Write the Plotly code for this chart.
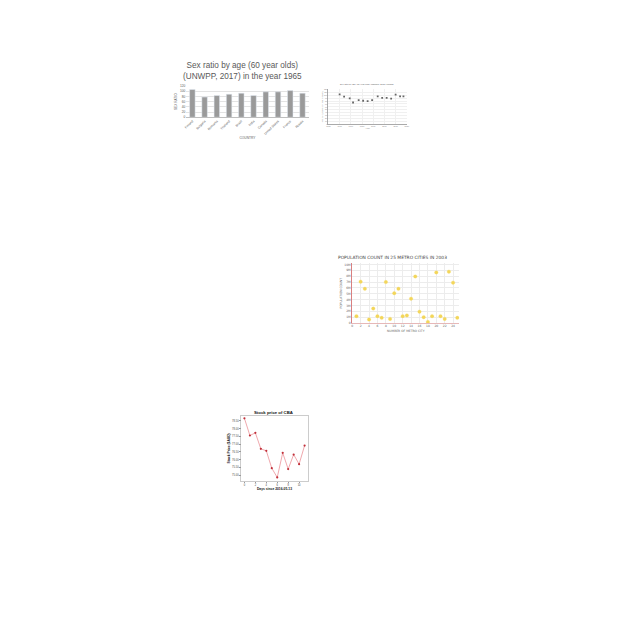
import plotly.graph_objects as go

W = H = 640

# ---- Chart 1: bar chart ----
countries = ["Finland", "Bulgaria", "Romania", "Thailand", "Brazil", "India",
             "Canada", "United States", "France", "Russia"]
sex_ratio_1965 = [107, 78, 84, 89, 93, 84, 98, 98, 103, 93]
bar_ticks = [0, 20, 40, 60, 80, 100, 120]

# ---- Chart 2: scatter over years ----
years = [1960, 1964, 1969, 1972, 1977, 1981, 1985, 1989, 1994, 1998, 2002, 2006, 2010, 2014, 2017]
sex_ratio_years = [103, 95, 89, 75, 83, 81, 80, 83, 96, 91, 91, 88, 102, 96, 96]
year_ticks = [1950, 1960, 1970, 1980, 1990, 2000, 2010, 2020]

# ---- Chart 3: population scatter ----
metro_no = list(range(1, 26))
population = [1170000, 7070000, 5850000, 580000, 2460000, 1170000, 880000, 7000000,
              700000, 5100000, 5850000, 1170000, 1300000, 4150000, 7950000, 1930000,
              1000000, 180000, 1170000, 8650000, 1170000, 700000, 8770000, 6900000, 880000]
pop_ticks = list(range(0, 10000001, 1000000))
metro_ticks = list(range(0, 25, 2))

# ---- Chart 4: stock price line ----
days = list(range(0, 12))
price = [78.67, 77.56, 77.73, 76.70, 76.57, 75.45, 74.85, 76.44, 75.39, 76.33, 75.71, 76.91]
price_ticks = [75.0, 75.5, 76.0, 76.5, 77.0, 77.5, 78.0, 78.5]
day_ticks = [0, 2, 4, 6, 8, 10]


def px(x):
    return x / W


def py(y):
    return 1 - y / H


fig = go.Figure()

# Chart 1
fig.add_trace(go.Bar(x=countries, y=sex_ratio_1965, marker_color="#9a9a9a",
                     width=0.45, xaxis="x", yaxis="y", showlegend=False))
# Chart 2
fig.add_trace(go.Scatter(x=years, y=sex_ratio_years, mode="markers",
                         marker=dict(size=1.8, color="#666666", symbol="square"),
                         xaxis="x2", yaxis="y2", showlegend=False))
# Chart 3
fig.add_trace(go.Scatter(x=metro_no, y=population, mode="markers",
                         marker=dict(size=3.5, color="#f3d65a", symbol="circle",
                                     line=dict(width=0.8, color="rgba(243,214,90,0.35)")),
                         xaxis="x3", yaxis="y3", showlegend=False))
# Chart 4
fig.add_trace(go.Scatter(x=days, y=price, mode="lines+markers",
                         line=dict(color="#e8838a", width=0.7),
                         marker=dict(size=2.2, color="#c0303a"),
                         xaxis="x4", yaxis="y4", showlegend=False))

fig.update_layout(
    width=W, height=H, margin=dict(l=0, r=0, t=0, b=0),
    paper_bgcolor="white", plot_bgcolor="white",
    bargap=0.5,
    # chart 1
    xaxis=dict(domain=[px(185.7), px(309)], anchor="y", tickangle=-45,
               tickfont=dict(size=3.2, color="#595959", family="Liberation Sans"),
               showline=True, linecolor="#bfbfbf", linewidth=0.6, ticks="",
               title=dict(text="COUNTRY", font=dict(size=3.2, color="#595959",
                                                    family="Liberation Sans"), standoff=2)),
    yaxis=dict(domain=[py(116), py(84.7)], anchor="x", range=[0, 120], tickvals=bar_ticks,
               tickfont=dict(size=3.2, color="#595959", family="Liberation Sans"),
               showgrid=True, gridcolor="#e3e3e3", gridwidth=0.5, zeroline=False,
               title=dict(text="SEX RATIO", font=dict(size=3.2, color="#595959",
                                                      family="Liberation Sans"), standoff=2)),
    # chart 2
    xaxis2=dict(domain=[px(329), px(408)], anchor="y2", range=[1950, 2020], tickvals=year_ticks,
                tickfont=dict(size=2, color="#888", family="Liberation Sans"),
                showgrid=True, gridcolor="#f0f0f0", gridwidth=0.4, showline=True,
                linecolor="#aaa", linewidth=0.4, zeroline=False,
                title=dict(text="Year", font=dict(size=2.2, color="#888"), standoff=1)),
    yaxis2=dict(domain=[py(123), py(88)], anchor="x2", range=[0, 120], dtick=10,
                tickfont=dict(size=2, color="#888", family="Liberation Sans"),
                showgrid=True, gridcolor="#f0f0f0", gridwidth=0.4, showline=True,
                linecolor="#aaa", linewidth=0.4, zeroline=False,
                title=dict(text="Sex ratio (males per 100 females)",
                           font=dict(size=2, color="#888"), standoff=1)),
    # chart 3
    xaxis3=dict(domain=[px(353), px(461)], anchor="y3", range=[0, 25.5], tickvals=metro_ticks,
                tickfont=dict(size=3, color="#666", family="DejaVu Sans"),
                showgrid=True, gridcolor="#ececec", gridwidth=0.5,
                showline=True, linecolor="#e6b8b8", linewidth=0.6, zeroline=False,
                title=dict(text="NUMBER OF METRO CITY",
                           font=dict(size=3, color="#666", family="DejaVu Sans"), standoff=2)),
    yaxis3=dict(domain=[py(323), py(263)], anchor="x3", range=[0, 10200000], tickvals=pop_ticks,
                tickfont=dict(size=3, color="#666", family="DejaVu Sans"),
                showgrid=True, gridcolor="#ececec", gridwidth=0.5,
                showline=True, linecolor="#d98080", linewidth=1, zeroline=False,
                title=dict(text="POPULATION COUNT",
                           font=dict(size=3, color="#666", family="DejaVu Sans"), standoff=2)),
    # chart 4
    xaxis4=dict(domain=[px(241.3), px(308)], anchor="y4", range=[-0.55, 11.55], tickvals=day_ticks,
                tickfont=dict(size=2.6, color="#444", family="Liberation Sans"),
                showgrid=False, showline=True, mirror=True, linecolor="#cccccc", linewidth=0.6,
                ticks="outside", ticklen=1.5, tickcolor="#999", zeroline=False,
                title=dict(text="<b>Days since 2016-05-13</b>",
                           font=dict(size=3.3, color="#111", family="Liberation Sans Narrow, Liberation Sans"),
                           standoff=1)),
    yaxis4=dict(domain=[py(482), py(416.3)], anchor="x4", range=[74.62, 78.84], tickvals=price_ticks,
                tickformat=".2f",
                tickfont=dict(size=2.6, color="#444", family="Liberation Sans"),
                showgrid=False, showline=True, mirror=True, linecolor="#cccccc", linewidth=0.6,
                ticks="outside", ticklen=1.5, tickcolor="#999", zeroline=False,
                title=dict(text="<b>Stock Price ($AUD)</b>",
                           font=dict(size=3.3, color="#111", family="Liberation Sans Narrow, Liberation Sans"),
                           standoff=1)),
    annotations=[
        dict(text="Sex ratio by age (60 year olds)<br>(UNWPP, 2017) in the year 1965",
             x=px(242), y=py(69.5), xref="paper", yref="paper", showarrow=False,
             xanchor="center", yanchor="middle",
             font=dict(size=8.2, color="#595959", family="Liberation Sans"), align="center"),
        dict(text="Sex ratio by age (60 year olds) (UNWPP, 2017) Finland",
             x=px(368), y=py(83.5), xref="paper", yref="paper", showarrow=False,
             xanchor="center", yanchor="middle",
             font=dict(size=2.2, color="#555", family="Liberation Sans")),
        dict(text="POPULATION COUNT IN 25 METRO CITIES IN 2003",
             x=px(394), y=py(257), xref="paper", yref="paper", showarrow=False,
             xanchor="center", yanchor="middle",
             font=dict(size=4.4, color="#444", family="DejaVu Sans")),
        dict(text="<b>Stock price of CBA</b>",
             x=px(274), y=py(413), xref="paper", yref="paper", showarrow=False,
             xanchor="center", yanchor="middle",
             font=dict(size=4.3, color="#111", family="Liberation Sans Narrow, Liberation Sans")),
    ],
)

fig.write_html("out.html")
